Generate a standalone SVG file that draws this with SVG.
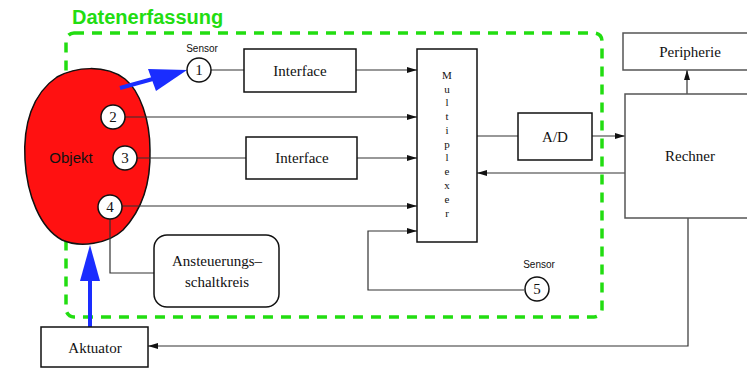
<svg xmlns="http://www.w3.org/2000/svg" width="747" height="368" viewBox="0 0 747 368">
  <style>
    .box { fill: #fff; stroke: #111; stroke-width: 1.5; }
    .gbox { fill: #fff; stroke: #555; stroke-width: 1.5; }
    .line { fill: none; stroke: #333; stroke-width: 1.2; }
    .arr { fill: none; stroke: #333; stroke-width: 1.2; marker-end: url(#head); }
    .circ { fill: #fff; stroke: #111; stroke-width: 1.5; }
    .serif { font-family: "Liberation Serif", "Times New Roman", serif; fill: #111; }
    .sans { font-family: "Liberation Sans", Arial, sans-serif; fill: #111; }
    .lbl { font-size: 15px; text-anchor: middle; }
    .num { font-size: 15px; text-anchor: middle; }
    .small { font-size: 10px; text-anchor: middle; }
    .mux { font-size: 11px; text-anchor: middle; }
  </style>
  <defs>
    <marker id="head" viewBox="0 0 10 6" refX="10" refY="3" markerWidth="10" markerHeight="6" markerUnits="userSpaceOnUse" orient="auto">
      <path d="M0,0 L10,3 L0,6 Z" fill="#111"/>
    </marker>
  </defs>

  <rect width="747" height="368" fill="#fff"/>

  <!-- acquisition boundary -->
  <g id="datenerfassung">
    <rect x="66" y="33" width="536" height="284" rx="8" fill="none" stroke="#22dd11" stroke-width="3.5" stroke-dasharray="10 8"/>
    <text x="72" y="24" font-family="Liberation Sans, Arial, sans-serif" font-weight="bold" font-size="20" fill="#22dd11">Datenerfassung</text>
  </g>

  <!-- object -->
  <g id="objekt">
    <path d="M57,77 C75,67 105,64 125,79 C140,91 150,120 150,150 C151,185 142,210 123,230 C108,244 80,248 62,240 C40,228 27,195 25,160 C23,125 32,94 57,77 Z" fill="#ff1111" stroke="#111" stroke-width="1.5"/>
    <text x="71" y="163" class="sans" font-size="15" text-anchor="middle">Objekt</text>
  </g>

  <!-- connectors -->
  <g id="connectors">
    <line class="line" x1="211" y1="70" x2="244" y2="70"/>
    <line class="arr" x1="356" y1="70" x2="417" y2="70"/>
    <line class="arr" x1="125" y1="117" x2="417" y2="117"/>
    <line class="line" x1="137" y1="158" x2="246" y2="158"/>
    <line class="arr" x1="357" y1="158" x2="417" y2="158"/>
    <line class="arr" x1="122" y1="206" x2="417" y2="206"/>
    <polyline class="arr" points="524,290 368,290 368,231 417,231"/>
    <polyline class="line" points="110,219 110,273 154,273"/>
    <line class="line" x1="477" y1="136" x2="518" y2="136"/>
    <line class="arr" x1="592" y1="136" x2="625" y2="136"/>
    <line class="arr" x1="625" y1="173" x2="477" y2="173"/>
    <line class="arr" x1="687" y1="94" x2="687" y2="70"/>
    <polyline class="arr" points="688,218 688,346 148,346"/>
    <!-- actuator and sensor effect arrows -->
    <line x1="120" y1="88" x2="160" y2="77" stroke="#1a2dff" stroke-width="4"/>
    <path d="M187,70 L148,69 L156,91 Z" fill="#1a2dff"/>
    <line x1="90" y1="327" x2="90" y2="275" stroke="#1a2dff" stroke-width="4"/>
    <path d="M90,245 L80,281 L100,281 Z" fill="#1a2dff"/>
  </g>

  <g id="sensor1">
    <circle class="circ" cx="199" cy="70" r="12"/>
    <text x="199" y="75" class="serif num">1</text>
    <text x="202" y="52" class="sans small">Sensor</text>
  </g>
  <g id="sensor2">
    <circle class="circ" cx="113" cy="117" r="12"/>
    <text x="113" y="122" class="serif num">2</text>
  </g>
  <g id="sensor3">
    <circle class="circ" cx="125" cy="158" r="12"/>
    <text x="125" y="163" class="serif num">3</text>
  </g>
  <g id="sensor4">
    <circle class="circ" cx="110" cy="207" r="12"/>
    <text x="110" y="212" class="serif num">4</text>
  </g>
  <g id="sensor5">
    <circle class="circ" cx="537" cy="289" r="12"/>
    <text x="537" y="294" class="serif num">5</text>
    <text x="539" y="268" class="sans small">Sensor</text>
  </g>

  <g id="interface1">
    <rect class="box" x="244" y="49" width="112" height="43"/>
    <text x="300" y="76" class="serif lbl">Interface</text>
  </g>
  <g id="interface2">
    <rect class="box" x="246" y="137" width="111" height="42"/>
    <text x="302" y="163" class="serif lbl">Interface</text>
  </g>

  <g id="multiplexer">
    <rect class="box" x="417" y="49" width="60" height="193"/>
    <g class="serif mux">
      <text x="447" y="79">M</text>
      <text x="447" y="93">u</text>
      <text x="447" y="106">l</text>
      <text x="447" y="120">t</text>
      <text x="447" y="134">i</text>
      <text x="447" y="148">p</text>
      <text x="447" y="161">l</text>
      <text x="447" y="175">e</text>
      <text x="447" y="189">x</text>
      <text x="447" y="203">e</text>
      <text x="447" y="217">r</text>
    </g>
  </g>

  <g id="ad">
    <rect class="box" x="518" y="113" width="74" height="47"/>
    <text x="555" y="142" class="serif lbl" font-size="16">A/D</text>
  </g>

  <g id="peripherie">
    <rect class="gbox" x="623" y="33" width="135" height="37"/>
    <text x="690" y="57" class="serif lbl">Peripherie</text>
  </g>

  <g id="rechner">
    <rect class="gbox" x="625" y="94" width="135" height="124"/>
    <text x="690" y="161" class="serif lbl">Rechner</text>
  </g>

  <g id="ansteuerung">
    <rect class="box" x="154" y="235" width="125" height="72" rx="13"/>
    <text x="217" y="266" class="serif lbl">Ansteuerungs–</text>
    <text x="217" y="287" class="serif lbl">schaltkreis</text>
  </g>

  <g id="aktuator">
    <rect class="box" x="41" y="327" width="107" height="40"/>
    <text x="95" y="353" class="serif lbl">Aktuator</text>
  </g>
</svg>
